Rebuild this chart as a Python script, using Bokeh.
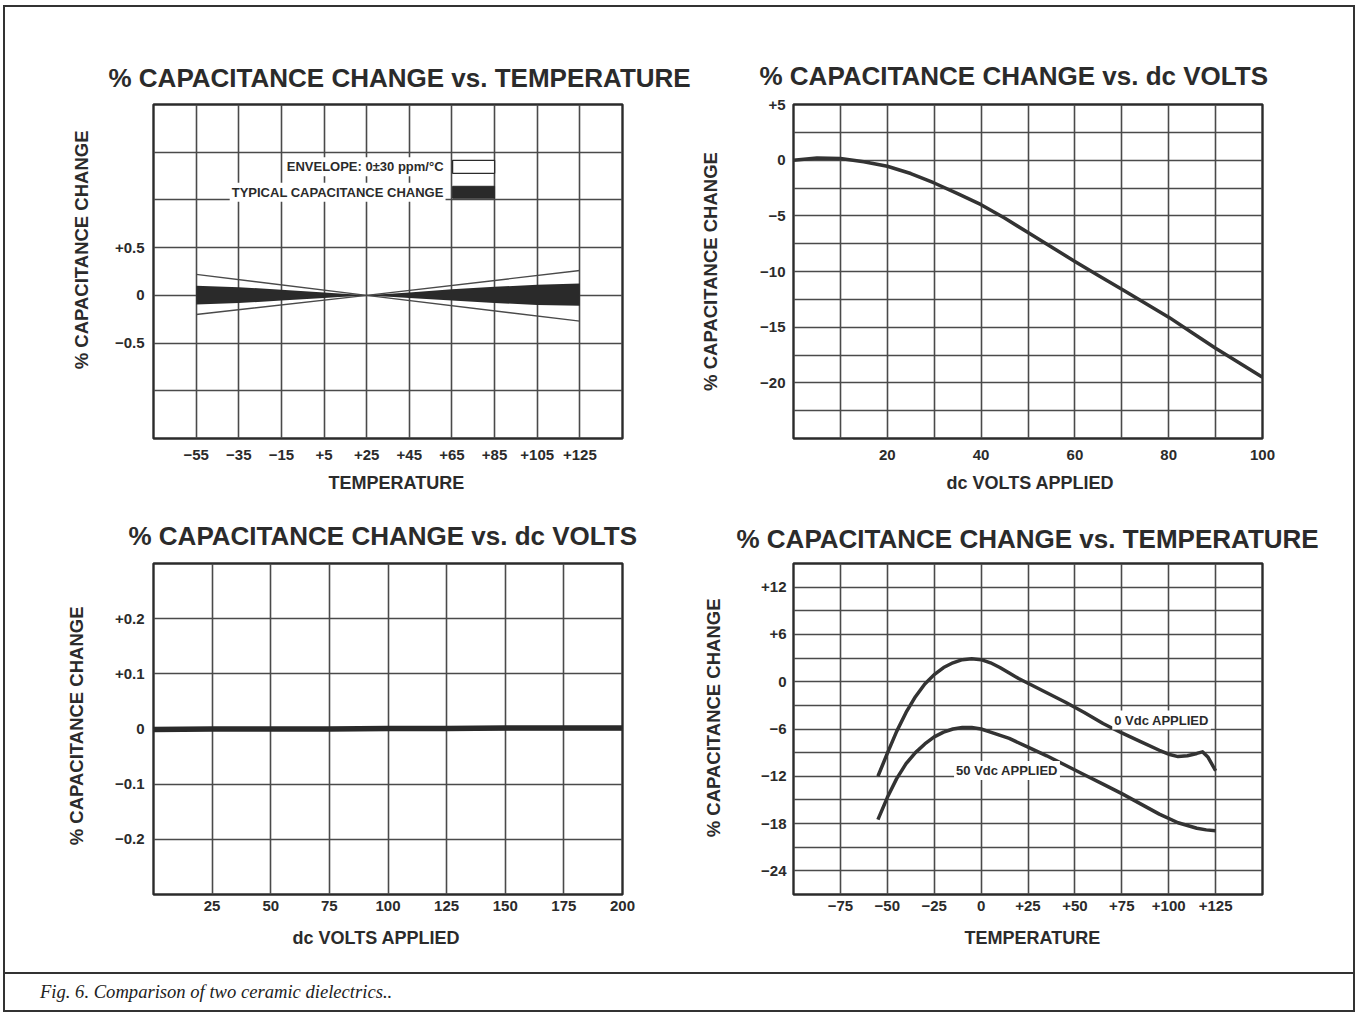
from bokeh.plotting import figure
from bokeh.models import FixedTicker, Range1d, Title, Label, BoxAnnotation, Div
from bokeh.layouts import row, column
from bokeh.embed import file_html
from bokeh.resources import INLINE

INK = "#2b2b2b"
GRID = "#4a4a4a"
FONT = "Liberation Sans"

# ---------------- data ----------------
# A: top-left, % capacitance change vs temperature (NP0 type)
a_temp = [-55, -35, -15, 5, 25, 45, 65, 85, 105, 125]
a_typ_upper = [0.10, 0.085, 0.06, 0.03, 0.0, 0.03, 0.065, 0.09, 0.11, 0.125]
a_typ_lower = [-0.095, -0.08, -0.055, -0.028, 0.0, -0.028, -0.055, -0.08, -0.10, -0.11]
a_env_temp = [-55, 25, 125]
a_env_1 = [0.22, 0.0, -0.27]
a_env_2 = [-0.20, 0.0, 0.26]
a_xticks = [-55, -35, -15, 5, 25, 45, 65, 85, 105, 125]
a_xlabels = ["\u221255", "\u221235", "\u221215", "+5", "+25", "+45", "+65", "+85", "+105", "+125"]
a_xgrid = [-75, -55, -35, -15, 5, 25, 45, 65, 85, 105, 125, 145]
a_yticks = [0.5, 0.0, -0.5]
a_ylabels = ["+0.5", "0", "\u22120.5"]
a_ygrid = [-1.5, -1.0, -0.5, 0.0, 0.5, 1.0, 1.5, 2.0]

# B: top-right, % capacitance change vs dc volts (X7R type)
b_volts = [0, 5, 10, 15, 20, 25, 30, 35, 40, 45, 50, 55, 60, 65, 70, 75, 80, 85, 90, 95, 100]
b_change = [0.0, 0.2, 0.15, -0.15, -0.55, -1.2, -2.05, -3.0, -4.0, -5.2, -6.5, -7.8, -9.1,
            -10.35, -11.6, -12.85, -14.1, -15.5, -16.9, -18.2, -19.5]
b_xticks = [20, 40, 60, 80, 100]
b_xlabels = ["20", "40", "60", "80", "100"]
b_xgrid = [0, 10, 20, 30, 40, 50, 60, 70, 80, 90, 100]
b_yticks = [5, 0, -5, -10, -15, -20]
b_ylabels = ["+5", "0", "\u22125", "\u221210", "\u221215", "\u221220"]
b_ygrid = [5, 2.5, 0, -2.5, -5, -7.5, -10, -12.5, -15, -17.5, -20, -22.5, -25]

# C: bottom-left, % capacitance change vs dc volts (NP0 type)
c_volts = [0, 25, 50, 75, 100, 125, 150, 175, 200]
c_change = [-0.001, 0.0, 0.0, 0.0, 0.001, 0.001, 0.002, 0.002, 0.002]
c_xticks = [25, 50, 75, 100, 125, 150, 175, 200]
c_xlabels = ["25", "50", "75", "100", "125", "150", "175", "200"]
c_xgrid = [0, 25, 50, 75, 100, 125, 150, 175, 200]
c_yticks = [0.2, 0.1, 0.0, -0.1, -0.2]
c_ylabels = ["+0.2", "+0.1", "0", "\u22120.1", "\u22120.2"]
c_ygrid = [0.3, 0.2, 0.1, 0.0, -0.1, -0.2, -0.3]

# D: bottom-right, % capacitance change vs temperature (X7R type)
d_temp_0v = [-55, -50, -45, -40, -35, -30, -25, -20, -15, -10, -5, 0, 5, 10, 15, 20, 25,
             35, 45, 55, 65, 75, 85, 95, 100, 105, 110, 115, 118, 121, 125]
d_chg_0v = [-12.0, -9.1, -6.3, -3.9, -1.9, -0.3, 0.9, 1.8, 2.4, 2.8, 2.9, 2.8, 2.4, 1.8, 1.1, 0.4, -0.2,
            -1.4, -2.6, -3.9, -5.3, -6.5, -7.6, -8.7, -9.2, -9.5, -9.4, -9.1, -8.9, -9.6, -11.3]
d_temp_50v = [-55, -50, -45, -40, -35, -30, -25, -20, -15, -10, -5, 0, 5, 15, 25, 35, 45, 55,
              65, 75, 85, 95, 105, 115, 120, 125]
d_chg_50v = [-17.5, -14.7, -12.3, -10.4, -9.0, -7.9, -7.0, -6.4, -6.0, -5.8, -5.8, -6.0, -6.4, -7.2,
             -8.3, -9.4, -10.6, -11.8, -13.0, -14.2, -15.5, -16.8, -17.9, -18.6, -18.8, -18.9]
d_xticks = [-75, -50, -25, 0, 25, 50, 75, 100, 125]
d_xlabels = ["\u221275", "\u221250", "\u221225", "0", "+25", "+50", "+75", "+100", "+125"]
d_xgrid = [-100, -75, -50, -25, 0, 25, 50, 75, 100, 125, 150]
d_yticks = [12, 6, 0, -6, -12, -18, -24]
d_ylabels = ["+12", "+6", "0", "\u22126", "\u221212", "\u221218", "\u221224"]
d_ygrid = [15, 12, 9, 6, 3, 0, -3, -6, -9, -12, -15, -18, -21, -24, -27]

TITLE_T = "% CAPACITANCE CHANGE vs. TEMPERATURE"
TITLE_V = "% CAPACITANCE CHANGE vs. dc VOLTS"
YLABEL = "% CAPACITANCE CHANGE"
XLABEL_T = "TEMPERATURE"
XLABEL_V = "dc VOLTS APPLIED"
CAPTION = "Fig. 6. Comparison of two ceramic dielectrics.."


def base_fig(width, height, xr, yr, left, right, top, bottom):
    p = figure(width=width, height=height, x_range=Range1d(*xr), y_range=Range1d(*yr),
               output_backend="svg", toolbar_location=None,
               min_border_left=left, min_border_right=right,
               min_border_top=top, min_border_bottom=bottom)
    p.outline_line_color = INK
    p.outline_line_width = 2.4
    p.outline_line_alpha = 1.0
    p.background_fill_color = "white"
    p.border_fill_color = "white"
    return p


def style_axes(p, xticks, xlabels, xgrid, yticks, ylabels, ygrid, xstand, ystand):
    p.xaxis.ticker = FixedTicker(ticks=xticks)
    p.yaxis.ticker = FixedTicker(ticks=yticks)
    p.xaxis.major_label_overrides = dict(zip(xticks, xlabels))
    p.yaxis.major_label_overrides = dict(zip(yticks, ylabels))
    p.xgrid.ticker = FixedTicker(ticks=xgrid)
    p.ygrid.ticker = FixedTicker(ticks=ygrid)
    for ax in (p.xaxis[0], p.yaxis[0]):
        ax.axis_line_color = None
        ax.major_tick_line_color = None
        ax.minor_tick_line_color = None
        ax.major_tick_out = 0
        ax.major_tick_in = 0
        ax.major_label_text_font = FONT
        ax.major_label_text_font_style = "bold"
        ax.major_label_text_font_size = "15px"
        ax.major_label_text_color = INK
    p.xaxis.major_label_standoff = xstand
    p.yaxis.major_label_standoff = ystand
    for g in (p.xgrid[0], p.ygrid[0]):
        g.grid_line_color = GRID
        g.grid_line_width = 1.6
        g.grid_line_alpha = 1.0


def set_title(p, text, offset, standoff):
    p.title.text = text
    p.title.align = "left"
    p.title.offset = offset
    p.title.standoff = standoff
    p.title.text_font = FONT
    p.title.text_font_size = "26px"
    p.title.text_font_style = "bold"
    p.title.text_color = INK


def add_ylabel(p, text, offset, standoff):
    t = Title(text=text, align="right", offset=offset, standoff=standoff,
              text_font=FONT, text_font_size="18.5px", text_font_style="bold", text_color=INK)
    p.add_layout(t, "left")


def axis_ylabel(p, text, standoff):
    ax = p.yaxis[0]
    ax.axis_label = text
    ax.axis_label_standoff = standoff
    ax.axis_label_text_font = FONT
    ax.axis_label_text_font_size = "18.5px"
    ax.axis_label_text_font_style = "bold"
    ax.axis_label_text_color = INK


def add_xlabel(p, text, offset, standoff):
    t = Title(text=text, align="left", offset=offset, standoff=standoff, vertical_align="top",
              text_font=FONT, text_font_size="18px", text_font_style="bold", text_color=INK)
    p.add_layout(t, "below")


def small_label(p, x, y, text, align):
    p.add_layout(Label(x=x, y=y, text=text, text_align=align, text_baseline="middle",
                       text_font=FONT, text_font_size="13px", text_font_style="bold",
                       text_color=INK, background_fill_color="white", padding=2))


# top row: frames 104..438 ; bottom row: frames 562..894
TOP_H, TOP_T, TOP_B = 499, 97, 68
BOT_H, BOT_T, BOT_B = 466, 56, 78

# ---------------- A: top-left ----------------
pa = base_fig(690, TOP_H, (-75, 145), (-1.5, 2.0), 148, 73, TOP_T, TOP_B)
style_axes(pa, a_xticks, a_xlabels, a_xgrid, a_yticks, a_ylabels, a_ygrid, 11, 9)
set_title(pa, TITLE_T, -45, 24)
add_ylabel(pa, YLABEL, 26, 39)
add_xlabel(pa, XLABEL_T, 175, 20)
pa.varea(x=a_temp, y1=a_typ_lower, y2=a_typ_upper, fill_color="#2a2a2a")
pa.line(a_env_temp, a_env_1, line_color="#4a4a4a", line_width=1.4)
pa.line(a_env_temp, a_env_2, line_color="#4a4a4a", line_width=1.4)
small_label(pa, 62, 1.347, "ENVELOPE: 0\u00b130 ppm/\u00b0C", "right")
small_label(pa, 62, 1.081, "TYPICAL CAPACITANCE CHANGE", "right")
pa.add_layout(BoxAnnotation(left=65.3, right=85, top=1.415, bottom=1.279, fill_color="white",
                            fill_alpha=1.0, line_color=INK, line_width=1.3, line_alpha=1.0))
pa.add_layout(BoxAnnotation(left=65.3, right=85, top=1.143, bottom=1.018, fill_color="#2a2a2a",
                            fill_alpha=1.0, line_color=INK, line_width=1.0, line_alpha=1.0))

# ---------------- B: top-right ----------------
pb = base_fig(658, TOP_H, (0, 100), (-25, 5), 98, 91, TOP_T, TOP_B)
style_axes(pb, b_xticks, b_xlabels, b_xgrid, b_yticks, b_ylabels, b_ygrid, 11, 8)
set_title(pb, TITLE_V, -34, 27)
axis_ylabel(pb, YLABEL, 36)
add_xlabel(pb, XLABEL_V, 153, 20)
pb.line(b_volts, b_change, line_color="#333333", line_width=3.5, line_join="round")

# ---------------- C: bottom-left ----------------
pc = base_fig(650, BOT_H, (0, 200), (-0.3, 0.3), 148, 33, BOT_T, BOT_B)
style_axes(pc, c_xticks, c_xlabels, c_xgrid, c_yticks, c_ylabels, c_ygrid, 6, 9)
set_title(pc, TITLE_V, -25, 25)
add_ylabel(pc, YLABEL, 43, 50)
add_xlabel(pc, XLABEL_V, 139, 29)
pc.line(c_volts, c_change, line_color="#2a2a2a", line_width=5.5)

# ---------------- D: bottom-right ----------------
pd = base_fig(698, BOT_H, (-100, 150), (-27, 15), 138, 91, BOT_T, BOT_B)
style_axes(pd, d_xticks, d_xlabels, d_xgrid, d_yticks, d_ylabels, d_ygrid, 6, 7)
set_title(pd, TITLE_T, -57, 20)
add_ylabel(pd, YLABEL, 35, 70)
add_xlabel(pd, XLABEL_T, 171, 29)
pd.line(d_temp_0v, d_chg_0v, line_color="#333333", line_width=3.5, line_join="round")
pd.line(d_temp_50v, d_chg_50v, line_color="#333333", line_width=3.5, line_join="round")
small_label(pd, 96.2, -4.87, "0 Vdc APPLIED", "center")
small_label(pd, 13.8, -11.28, "50 Vdc APPLIED", "center")

# ---------------- caption ----------------
cap = Div(text=('<div style="border-top:2px solid #333;width:1348px;height:38px;box-sizing:border-box;'
                'padding:7px 0 0 35px;font-family:\'Liberation Serif\',serif;font-style:italic;'
                'font-size:18.6px;color:#222;line-height:22px;">' + CAPTION + '</div>'),
          width=1348, height=38, margin=0)

layout = column(row(pa, pb), row(pc, pd), cap,
                styles={"border": "2px solid #333", "background-color": "white",
                        "margin-left": "3px", "margin-top": "5px"})

open("out.html", "w").write(file_html(layout, INLINE, title="Fig. 6"))
